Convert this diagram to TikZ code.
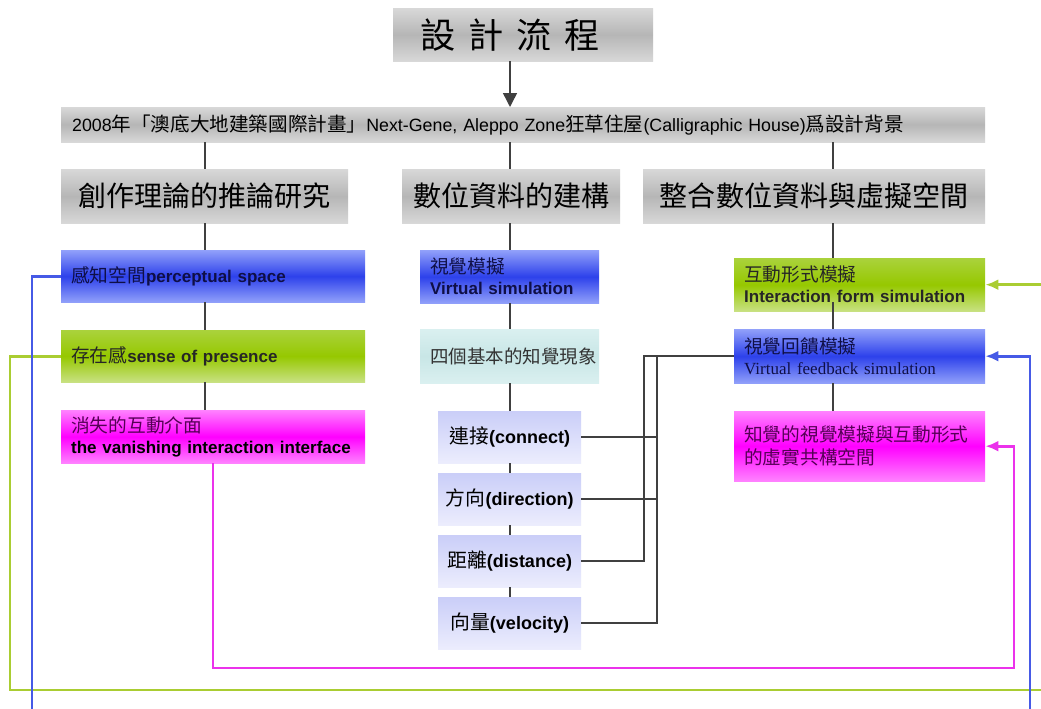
\documentclass[tikz,border=0pt]{standalone}
\usepackage{fontspec}
\setmainfont{Liberation Sans}
\newfontfamily\cjk[Scale=1.1]{Noto Sans CJK TC}
\newfontfamily\serifen{Liberation Serif}
\newcommand\cj[1]{{\cjk\mdseries #1}}
\usetikzlibrary{arrows.meta,calc}
\definecolor{bluemid}{RGB}{45,65,235}
\definecolor{blueedge}{RGB}{145,160,250}
\definecolor{greentop}{RGB}{170,210,60}
\definecolor{greenmid}{RGB}{150,200,0}
\definecolor{greenedge}{RGB}{200,225,130}
\definecolor{magmid}{RGB}{255,0,255}
\definecolor{magedge}{RGB}{255,130,255}
\definecolor{graymid}{RGB}{182,182,182}
\definecolor{grayedge}{RGB}{216,216,216}
\definecolor{tealmid}{RGB}{200,230,230}
\definecolor{tealedge}{RGB}{218,240,240}
\definecolor{lavtop}{RGB}{202,206,248}
\definecolor{lavbot}{RGB}{236,237,253}
\definecolor{bluel}{RGB}{70,90,230}
\definecolor{greenl}{RGB}{170,205,50}
\definecolor{magl}{RGB}{235,50,235}
\definecolor{darkpurple}{RGB}{85,0,85}
\definecolor{navytext}{RGB}{15,15,70}
\begin{document}
\begin{tikzpicture}[x=1pt,y=-1pt,
  bx/.style={rectangle, anchor=north west, inner xsep=10pt, inner ysep=0pt, align=left,
    font=\fontsize{17}{21}\selectfont\bfseries},
  gshade/.style={top color=grayedge, bottom color=grayedge, middle color=graymid},
  bshade/.style={top color=blueedge, bottom color=blueedge, middle color=bluemid},
  grshade/.style={top color=greentop, bottom color=greenedge, middle color=greenmid},
  mshade/.style={top color=magedge, bottom color=magedge, middle color=magmid},
  tshade/.style={top color=tealedge, bottom color=tealedge, middle color=tealmid},
  lshade/.style={top color=lavtop, bottom color=lavbot},
  lavbox/.style={bx, lshade, minimum width=143, minimum height=52, inner xsep=4pt,
    text width=135, align=center, font=\fontsize{18}{21}\selectfont\bfseries},
  conn/.style={draw=black!75, line width=1.5pt},
  bline/.style={draw=bluel, line width=2.8pt, -{Latex[length=13pt,width=11pt]}},
  gline/.style={draw=greenl, line width=2.8pt, -{Latex[length=13pt,width=11pt]}},
  mline/.style={draw=magl, line width=2.8pt, -{Latex[length=13pt,width=11pt]}}]
\useasboundingbox (0,0) rectangle (1041,709);
\clip (0,0) rectangle (1041,709);
\fill[white] (0,0) rectangle (1041,709);

\coordinate (xL) at (205,0);
\coordinate (xM) at (510,0);
\coordinate (xR) at (833,0);
\coordinate (busA) at (657,0);
\coordinate (busB) at (644,0);
\coordinate (blueL) at (32,0);
\coordinate (blueR) at (1030,0);
\coordinate (blueB) at (0,730);
\coordinate (greenL) at (10,0);
\coordinate (greenR) at (1060,0);
\coordinate (greenB) at (0,690);
\coordinate (magL) at (213,0);
\coordinate (magR) at (1014,0);
\coordinate (magB) at (0,668);

% title and background bar
\node[bx, gshade, minimum width=260, minimum height=53, align=center,
  font=\cjk\fontsize{32}{32}\selectfont] (title) at (393,8)
  {設\hspace{13pt}計\hspace{13pt}流\hspace{13pt}程\hspace{26pt}};
\node[bx, gshade, minimum width=924, minimum height=35, inner xsep=11pt, text width=902,
  font=\fontsize{17.8}{20}\selectfont] (bar) at (61,107)
  {2008\cj{年「澳底大地建築國際計畫」}Next-Gene, Aleppo Zone\cj{狂草住屋}(Calligraphic House)\cj{爲設計背景}};

% headers
\node[bx, gshade, minimum width=287, minimum height=54, align=center,
  font=\cjk\fontsize{25.5}{28}\selectfont] (hL) at (61,169) {創作理論的推論研究};
\node[bx, gshade, minimum width=218, minimum height=54, align=center,
  font=\cjk\fontsize{25.5}{28}\selectfont] (hM) at (402,169) {數位資料的建構};
\node[bx, gshade, minimum width=342, minimum height=54, align=center,
  font=\cjk\fontsize{25.5}{28}\selectfont] (hR) at (643,169) {整合數位資料與虛擬空間};

% left column
\node[bx, bshade, text=navytext, minimum width=304, minimum height=52, text width=284] (lb1) at (61,250)
  {\cj{感知空間}perceptual space};
\node[bx, grshade, text=black!85, minimum width=304, minimum height=52, text width=284] (lb2) at (61,330)
  {\cj{存在感}sense of presence};
\node[bx, mshade, text=black, minimum width=304, minimum height=53, text width=284] (lb3) at (61,410)
  {\textcolor{darkpurple}{\cj{消失的互動介面}}\\the vanishing interaction interface};

% middle column
\node[bx, bshade, text=navytext, minimum width=179, minimum height=53, text width=159] (mb1) at (420,250)
  {\cj{視覺模擬}\\Virtual simulation};
\node[bx, tshade, text=black!80, minimum width=179, minimum height=54, text width=159,
  font=\fontsize{16.8}{20}\selectfont] (mb2) at (420,329)
  {\cj{四個基本的知覺現象}};
\node[lavbox] (v1) at (438,411) {\cj{連接}(connect)};
\node[lavbox] (v2) at (438,473) {\cj{方向}(direction)};
\node[lavbox] (v3) at (438,535) {\cj{距離}(distance)};
\node[lavbox] (v4) at (438,597) {\cj{向量}(velocity)};

% right column
\node[bx, grshade, text=black!85, minimum width=251, minimum height=53, text width=231] (rb1) at (734,258)
  {\cj{互動形式模擬}\\Interaction form simulation};
\node[bx, bshade, text=navytext, minimum width=251, minimum height=54, text width=231] (rb2) at (734,329)
  {\cj{視覺回饋模擬}\\{\serifen\mdseries Virtual feedback simulation}};
\node[bx, mshade, text=darkpurple, minimum width=251, minimum height=70, text width=231,
  font=\fontsize{17}{23}\selectfont] (rb3) at (734,411)
  {\cj{知覺的視覺模擬與互動形式\\的虛實共構空間}};

% black connectors
\draw[conn, -{Triangle[length=14pt,width=14pt]}] (title.south -| xM) -- (bar.north -| xM);
\draw[conn] (bar.south -| xL) -- (hL.north -| xL);
\draw[conn] (bar.south -| xM) -- (hM.north -| xM);
\draw[conn] (bar.south -| xR) -- (hR.north -| xR);
\draw[conn] (hL.south -| xL) -- (lb1.north -| xL);
\draw[conn] (lb1.south -| xL) -- (lb2.north -| xL);
\draw[conn] (lb2.south -| xL) -- (lb3.north -| xL);
\draw[conn] (hM.south -| xM) -- (mb1.north -| xM);
\draw[conn] (mb1.south -| xM) -- (mb2.north -| xM);
\draw[conn] (mb2.south -| xM) -- (v1.north -| xM);
\draw[conn] (v1.south -| xM) -- (v2.north -| xM);
\draw[conn] (v2.south -| xM) -- (v3.north -| xM);
\draw[conn] (v3.south -| xM) -- (v4.north -| xM);
\draw[conn] (hR.south -| xR) -- (rb1.north -| xR);
\coordinate (rbj) at ($(rb1.south -| xR)+(0,-9)$);
\draw[conn] (rbj) -- (rb2.north -| xR);
\draw[conn] (rb2.south -| xR) -- (rb3.north -| xR);

% bus from the four phenomena to the feedback box
\draw[conn] (v1.east) -- (v1.east -| busA);
\draw[conn] (v2.east) -- (v2.east -| busA);
\draw[conn] (v4.east) -| (rb2.west -| busA) -- (rb2.west);
\draw[conn] (v3.east) -| (rb2.west -| busB) -- (rb2.west);

% coloured feedback loops
\draw[mline] (lb3.south -| magL) -- (magL |- magB) -| (rb3.east -| magR) -- (rb3.east);
\draw[gline] (lb2.west) -| (greenL |- greenB) -| (rb1.east -| greenR) -- (rb1.east);
\draw[bline] (lb1.west) -| (blueL |- blueB) -| (rb2.east -| blueR) -- (rb2.east);
\end{tikzpicture}
\end{document}
